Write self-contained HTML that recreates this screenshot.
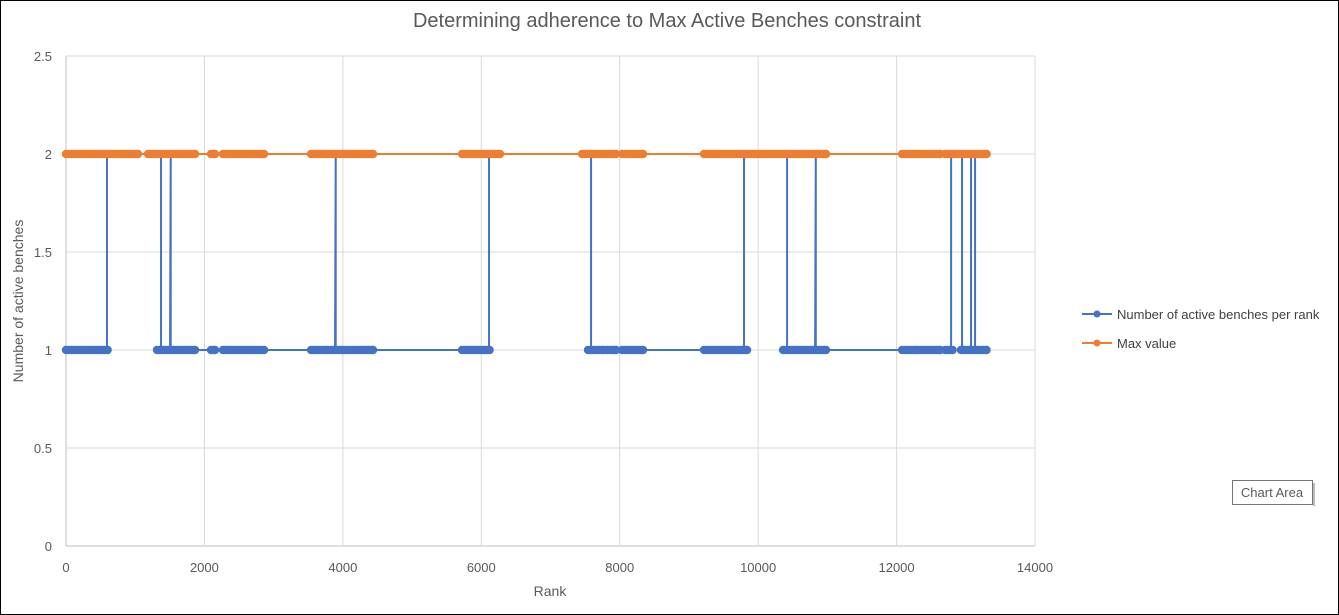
<!DOCTYPE html>
<html><head><meta charset="utf-8"><style>
body{margin:0;background:#fff;}
svg{display:block;font-family:"Liberation Sans",Arial,sans-serif;}
</style></head><body>
<svg id="chart" width="1339" height="615">
<rect x="0.5" y="0.5" width="1338" height="614" fill="#fff" stroke="#000"/>
<text x="667" y="27" text-anchor="middle" font-size="20" fill="#595959">Determining adherence to Max Active Benches constraint</text>
<g id="grid"></g>
<g id="series"></g>
<g id="axes"></g>
<text x="550" y="596" text-anchor="middle" font-size="14" fill="#595959">Rank</text>
<text transform="translate(23,301) rotate(-90)" text-anchor="middle" font-size="14" fill="#595959">Number of active benches</text>
<g>
<g>
<line x1="1082" y1="314" x2="1112" y2="314" stroke="#4472c4" stroke-width="2"/><circle cx="1097" cy="314" r="3.5" fill="#4472c4"/>
<text x="1117" y="319" font-size="13" fill="#404040">Number of active benches per rank</text></g>
<g>
<line x1="1082" y1="343" x2="1112" y2="343" stroke="#ed7d31" stroke-width="2"/><circle cx="1097" cy="343" r="3.5" fill="#ed7d31"/>
<text x="1117" y="348" font-size="13" fill="#404040">Max value</text></g>
</g>
<g>
<rect x="1232.5" y="480.5" width="80" height="24" fill="#fff" stroke="#767676"/>
<rect x="1313" y="483" width="2" height="23" fill="#bbb"/>
<text x="1272" y="497" text-anchor="middle" font-size="13" fill="#595959">Chart Area</text></g>
</svg>
<script>
const xTicks=[0,2000,4000,6000,8000,10000,12000,14000];
const yTicks=[0,0.5,1,1.5,2,2.5];
const yTickLabels=["0","0.5","1","1.5","2","2.5"];
const blueRanks=[0,592,592,1373,1373,1503,1513,1513,3887,3897,3897,6112,6112,7586,7586,9796,9796,10418,10418,10823,10833,10833,12788,12788,12946,12946,13076,13076,13134,13134,13300];
const blueValues=[1,1,2,2,1,1,2,1,1,2,1,1,2,2,1,1,2,2,1,1,2,1,1,2,2,1,1,2,2,1,1];
const blueClusterStart=[0,1315,2095,2268,3540,3814,5722,7542,7817,8034,9218,10360,12079,12339,12700,12930];
const blueClusterEnd=[600,1864,2153,2861,3771,4436,6120,7773,7947,8337,9840,10981,12296,12628,12810,13300];
const maxRanks=[0,13300];
const maxValues=[2,2];
const orangeClusterStart=[0,867,1185,2095,2268,3540,3814,5722,7456,7817,8034,9218,12079,12339,12700];
const orangeClusterEnd=[838,1040,1864,2153,2861,3771,4436,6271,7773,7947,8337,10981,12296,12628,13300];
const x0=66,x1=1035,y0=546,y1=56;
const X=v=>x0+(v-0)/(14000)*(x1-x0);
const Y=v=>y0-(v/2.5)*(y0-y1);
const NS="http://www.w3.org/2000/svg";
function mk(tag,attrs,parent){const e=document.createElementNS(NS,tag);for(const k in attrs)e.setAttribute(k,attrs[k]);parent.appendChild(e);return e;}
const grid=document.getElementById('grid'),axes=document.getElementById('axes'),ser=document.getElementById('series');
yTicks.forEach((t,i)=>{
 const l=mk('line',{x1:x0,x2:x1,y1:Y(t),y2:Y(t),stroke:t===0?'#bfbfbf':'#d9d9d9','stroke-width':1},grid);
 
 
 const tx=mk('text',{x:52,y:Y(t)+5,'text-anchor':'end','font-size':13,fill:'#595959'},axes);
 tx.textContent=yTickLabels[i];
 
 
});
xTicks.forEach(t=>{
 const l=mk('line',{x1:X(t),x2:X(t),y1:y1,y2:y0,stroke:t===0?'#bfbfbf':'#d9d9d9','stroke-width':1},grid);
 
 
 const tx=mk('text',{x:X(t),y:572,'text-anchor':'middle','font-size':13,fill:'#595959'},axes);
 tx.textContent=String(t);
 
 
});
function drawLine(rs,vs,color,name){
 const p=mk('polyline',{points:rs.map((r,i)=>X(r)+','+Y(vs[i])).join(' '),fill:'none',stroke:color,'stroke-width':2},ser);
 
 
}
function drawMarkers(st,en,val,color,name){
 const g=mk('g',{fill:color},ser);
 
 
 st.forEach((s,i)=>{for(let r=s;r<=en[i];r+=40){mk('circle',{cx:X(r),cy:Y(val),r:4.2},g);}
  mk('circle',{cx:X(en[i]),cy:Y(val),r:4.2},g);});
}
drawLine(blueRanks,blueValues,'#4472c4','benches-line');
drawMarkers(blueClusterStart,blueClusterEnd,1,'#4472c4','benches-markers');
drawLine(maxRanks,maxValues,'#ed7d31','max-value-line');
drawMarkers(orangeClusterStart,orangeClusterEnd,2,'#ed7d31','max-value-markers');
</script>
</body></html>
